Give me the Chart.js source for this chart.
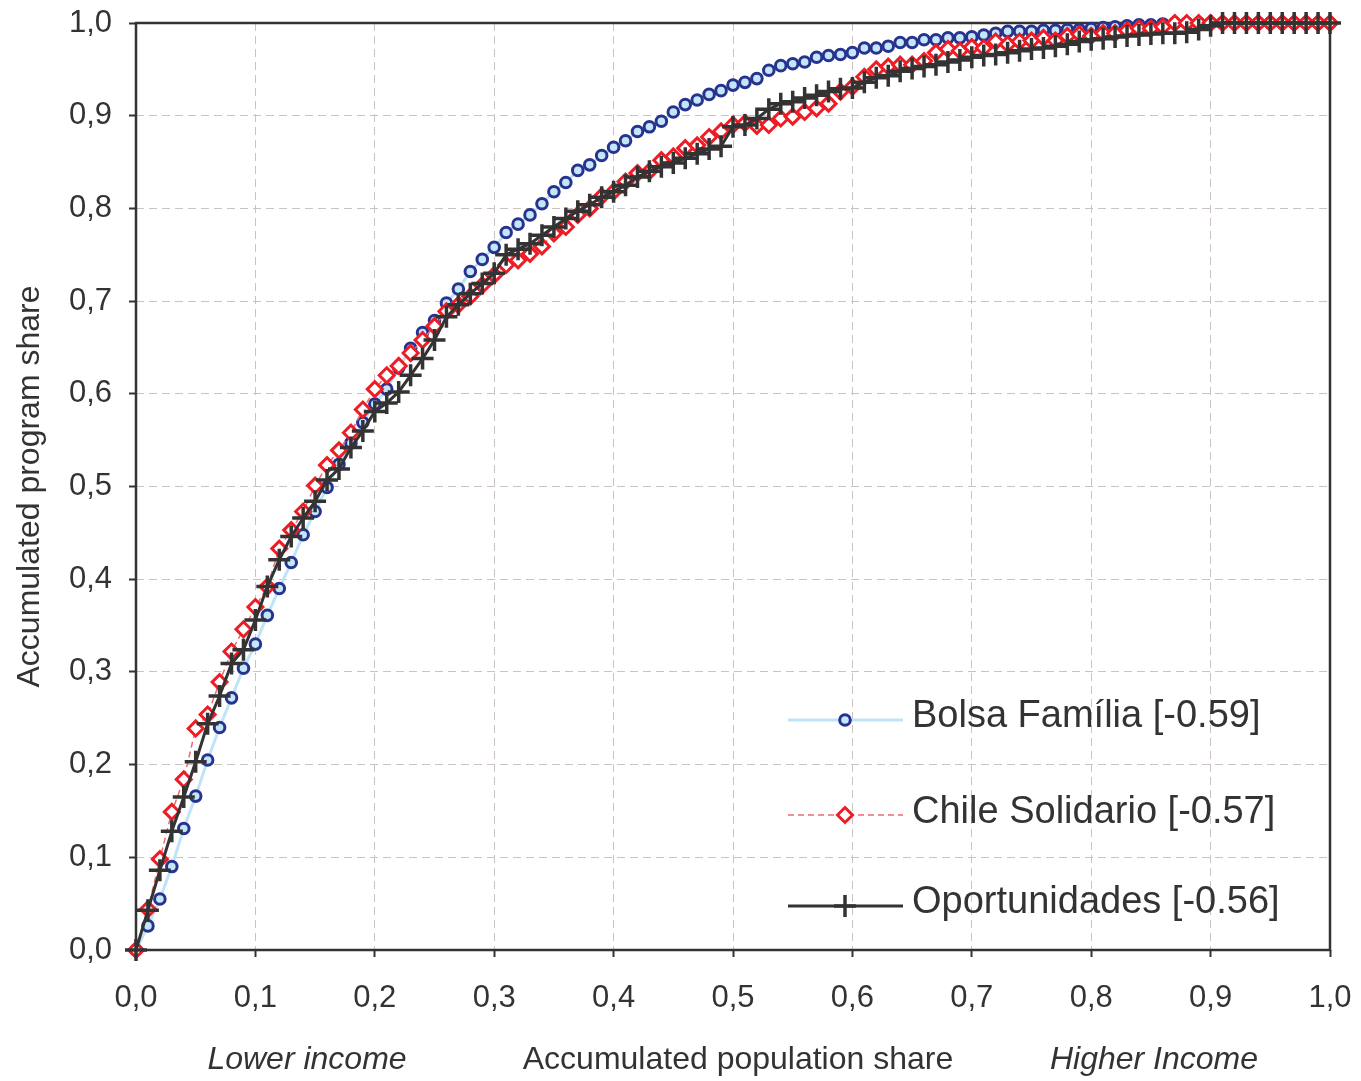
<!DOCTYPE html>
<html lang="en">
<head>
    <meta charset="UTF-8">
    <title>Accumulated program share</title>
    <script src="https://cdn.jsdelivr.net/npm/chart.js"></script>
    <style>
        body {
            margin: 0;
            background: #fff;
        }
        #chart {
            display: block;
        }
    </style>
</head>
<body>
    <canvas id="chart" width="1361" height="1081"></canvas>

    <script>
        // population share percentiles, 0.00 .. 1.00
        const shares = Array.from({ length: 101 }, (_, i) => i / 100);

        const tickLabels = ['0,0', '0,1', '0,2', '0,3', '0,4', '0,5', '0,6', '0,7', '0,8', '0,9', '1,0'];

        const bolsaFamilia = [
            0, 0.026, 0.055, 0.090, 0.131, 0.166, 0.205, 0.240, 0.272, 0.304,
            0.330, 0.361, 0.390, 0.418, 0.448, 0.473, 0.499, 0.524, 0.547, 0.569,
            0.589, 0.605, 0.628, 0.649, 0.666, 0.679, 0.698, 0.713, 0.732, 0.745,
            0.758, 0.774, 0.783, 0.793, 0.805, 0.818, 0.828, 0.841, 0.847, 0.857,
            0.866, 0.873, 0.883, 0.888, 0.894, 0.904, 0.912, 0.917, 0.923, 0.927,
            0.933, 0.936, 0.940, 0.949, 0.954, 0.956, 0.958, 0.963, 0.965, 0.966,
            0.968, 0.973, 0.973, 0.975, 0.979, 0.979, 0.982, 0.982, 0.984, 0.984,
            0.985, 0.987, 0.989, 0.991, 0.991, 0.991, 0.992, 0.992, 0.993, 0.993,
            0.994, 0.995, 0.996, 0.997, 0.998, 0.998, 0.999, 1, 1, 1,
            1, 1, 1, 1, 1, 1, 1, 1, 1, 1,
            1
        ];

        const chileSolidario = [
            0, 0.044, 0.098, 0.149, 0.184, 0.239, 0.254, 0.289, 0.322, 0.346,
            0.370, 0.392, 0.433, 0.453, 0.473, 0.501, 0.523, 0.539, 0.558, 0.583,
            0.605, 0.620, 0.630, 0.644, 0.658, 0.673, 0.689, 0.696, 0.705, 0.717,
            0.728, 0.739, 0.744, 0.751, 0.759, 0.773, 0.780, 0.793, 0.800, 0.813,
            0.818, 0.829, 0.838, 0.840, 0.852, 0.856, 0.865, 0.868, 0.877, 0.883,
            0.890, 0.892, 0.889, 0.890, 0.897, 0.899, 0.904, 0.908, 0.913, 0.926,
            0.931, 0.942, 0.950, 0.953, 0.955, 0.955, 0.959, 0.968, 0.972, 0.970,
            0.974, 0.973, 0.980, 0.977, 0.980, 0.981, 0.984, 0.981, 0.986, 0.988,
            0.986, 0.989, 0.989, 0.992, 0.994, 0.994, 0.996, 1, 1, 1,
            1, 1, 1, 1, 1, 1, 1, 1, 1, 1,
            1
        ];

        const oportunidades = [
            0, 0.043, 0.086, 0.128, 0.165, 0.203, 0.244, 0.274, 0.309, 0.324,
            0.356, 0.392, 0.421, 0.446, 0.466, 0.484, 0.507, 0.519, 0.542, 0.560,
            0.581, 0.590, 0.602, 0.620, 0.638, 0.658, 0.683, 0.696, 0.708, 0.719,
            0.730, 0.750, 0.756, 0.762, 0.771, 0.780, 0.789, 0.797, 0.804, 0.812,
            0.818, 0.825, 0.834, 0.840, 0.845, 0.849, 0.854, 0.859, 0.864, 0.867,
            0.888, 0.890, 0.897, 0.907, 0.913, 0.915, 0.919, 0.922, 0.926, 0.929,
            0.930, 0.936, 0.941, 0.943, 0.948, 0.951, 0.953, 0.955, 0.958, 0.960,
            0.963, 0.965, 0.966, 0.968, 0.970, 0.972, 0.973, 0.975, 0.977, 0.980,
            0.982, 0.983, 0.985, 0.986, 0.987, 0.988, 0.989, 0.989, 0.990, 0.993,
            0.997, 1, 1, 1, 1, 1, 1, 1, 1, 1,
            1
        ];

        const seriesNames = ['Bolsa Família [-0.59]', 'Chile Solidario [-0.57]', 'Oportunidades [-0.56]'];

        const TEXT = '#333';
        const FONT = '"Liberation Sans", Arial, sans-serif';

        function toPoints(values) {
            return values.map((v, i) => ({ x: shares[i], y: v }));
        }

        function drawMarker(ctx, ds, x, y) {
            const r = ds.pointRadius;
            ctx.save();
            ctx.lineWidth = ds.pointBorderWidth;
            ctx.strokeStyle = ds.pointBorderColor;
            ctx.fillStyle = ds.pointBackgroundColor;
            ctx.setLineDash([]);
            ctx.beginPath();
            if (ds.pointStyle === 'circle') {
                ctx.arc(x, y, r, 0, Math.PI * 2);
                ctx.fill();
                ctx.stroke();
            } else if (ds.pointStyle === 'rectRot') {
                ctx.moveTo(x, y - r);
                ctx.lineTo(x + r, y);
                ctx.lineTo(x, y + r);
                ctx.lineTo(x - r, y);
                ctx.closePath();
                ctx.fill();
                ctx.stroke();
            } else {
                ctx.moveTo(x - r, y);
                ctx.lineTo(x + r, y);
                ctx.moveTo(x, y - r);
                ctx.lineTo(x, y + r);
                ctx.stroke();
            }
            ctx.restore();
        }

        // frame, axis titles and the legend box inside the plot
        const decorations = {
            id: 'decorations',
            beforeDatasetsDraw(chart) {
                const { ctx, chartArea: a } = chart;
                ctx.save();
                ctx.strokeStyle = '#333';
                ctx.lineWidth = 2.5;
                ctx.setLineDash([]);
                ctx.strokeRect(a.left, a.top, a.right - a.left, a.bottom - a.top);
                ctx.restore();
            },
            afterDraw(chart) {
                const { ctx, chartArea: a } = chart;
                ctx.save();
                ctx.fillStyle = TEXT;
                ctx.textBaseline = 'alphabetic';
                ctx.textAlign = 'center';

                // x titles
                ctx.font = '32px ' + FONT;
                ctx.fillText('Accumulated population share', 738, 1069);
                ctx.font = 'italic 32px ' + FONT;
                ctx.fillText('Lower income', 307, 1069);
                ctx.fillText('Higher Income', 1154, 1069);

                // y title
                ctx.save();
                ctx.translate(39, (a.top + a.bottom) / 2);
                ctx.rotate(-Math.PI / 2);
                ctx.font = '32px ' + FONT;
                ctx.fillText('Accumulated program share', 0, 0);
                ctx.restore();

                // legend
                const rows = [{ line: 720, text: 727 }, { line: 815, text: 823 }, { line: 906, text: 913 }];
                ctx.font = '38px ' + FONT;
                ctx.textAlign = 'left';
                chart.data.datasets.forEach((ds, i) => {
                    const y = rows[i].line;
                    ctx.save();
                    ctx.strokeStyle = ds.borderColor;
                    ctx.lineWidth = ds.borderWidth;
                    ctx.setLineDash(ds.borderDash || []);
                    ctx.beginPath();
                    ctx.moveTo(788, y);
                    ctx.lineTo(903, y);
                    ctx.stroke();
                    ctx.restore();
                    drawMarker(ctx, ds, 845, y);
                    ctx.fillStyle = TEXT;
                    ctx.fillText(ds.label, 912, rows[i].text);
                });
                ctx.restore();
            }
        };

        const gridOpts = {
            color: '#cbc2c2',
            lineWidth: 1,
            tickLength: 7,
            tickColor: '#333',
            tickWidth: 2
        };

        function noOverflow(scale) {
            scale.paddingTop = 0;
            scale.paddingBottom = 0;
            scale.paddingLeft = 0;
            scale.paddingRight = 0;
        }

        new Chart(document.getElementById('chart'), {
            type: 'line',
            data: {
                datasets: [{
                    label: seriesNames[0],
                    data: toPoints(bolsaFamilia),
                    borderColor: '#bfe4f7',
                    borderWidth: 3,
                    pointStyle: 'circle',
                    pointRadius: 5.3,
                    pointBorderWidth: 3,
                    pointBorderColor: '#27338f',
                    pointBackgroundColor: '#c3e7f8',
                    order: 2,
                    clip: false
                }, {
                    label: seriesNames[1],
                    data: toPoints(chileSolidario),
                    borderColor: '#f06a70',
                    borderWidth: 1.5,
                    borderDash: [6, 4],
                    pointStyle: 'rectRot',
                    pointRadius: 7.5,
                    pointBorderWidth: 3,
                    pointBorderColor: '#ee1c25',
                    pointBackgroundColor: '#ffffff',
                    order: 1,
                    clip: false
                }, {
                    label: seriesNames[2],
                    data: toPoints(oportunidades),
                    borderColor: '#333333',
                    borderWidth: 3,
                    pointStyle: 'cross',
                    pointRadius: 11,
                    pointBorderWidth: 3.5,
                    pointBorderColor: '#333333',
                    pointBackgroundColor: '#333333',
                    order: 0,
                    clip: false
                }]
            },
            options: {
                responsive: false,
                animation: false,
                events: [],
                layout: { padding: { top: 23, right: 31, left: 0, bottom: 0 } },
                elements: { line: { tension: 0 } },
                plugins: {
                    legend: { display: false },
                    tooltip: { enabled: false }
                },
                scales: {
                    x: {
                        type: 'linear',
                        min: 0,
                        max: 1,
                        grid: gridOpts,
                        border: { display: false, dash: [8, 5] },
                        ticks: {
                            stepSize: 0.1,
                            padding: 23,
                            color: TEXT,
                            font: { size: 31, family: FONT },
                            maxRotation: 0,
                            callback: v => tickLabels[Math.round(v * 10)]
                        },
                        afterFit: scale => { scale.height = 131; noOverflow(scale); }
                    },
                    y: {
                        min: 0,
                        max: 1,
                        grid: gridOpts,
                        border: { display: false, dash: [8, 5] },
                        ticks: {
                            stepSize: 0.1,
                            padding: 17,
                            color: TEXT,
                            font: { size: 31, family: FONT },
                            callback: v => tickLabels[Math.round(v * 10)]
                        },
                        afterFit: scale => { scale.width = 136; noOverflow(scale); }
                    }
                }
            },
            plugins: [decorations]
        });
    </script>
</body>
</html>
